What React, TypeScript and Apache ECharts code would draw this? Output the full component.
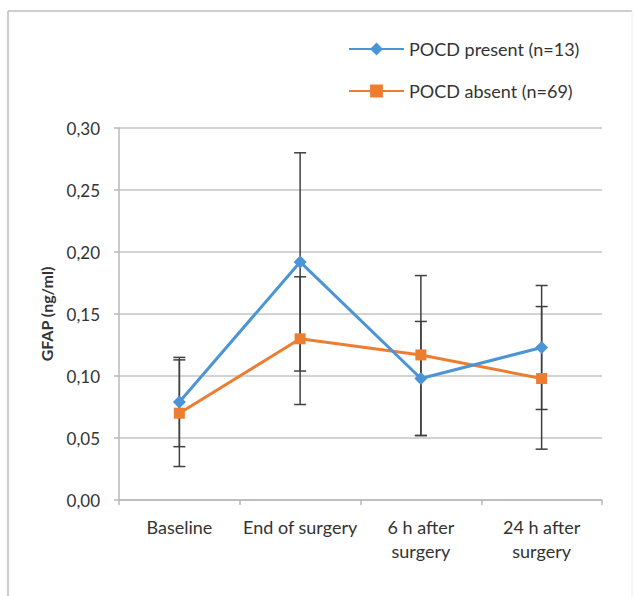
import React, { useEffect, useRef } from "react";
import * as echarts from "echarts";

const categories = ["Baseline", "End of surgery", "6 h after\nsurgery", "24 h after\nsurgery"];
const yTicks = [0, 0.05, 0.1, 0.15, 0.2, 0.25, 0.3];

const presentName = "POCD present (n=13)";
const presentMean = [0.079, 0.192, 0.098, 0.123];
const presentLow = [0.043, 0.104, 0.052, 0.073];
const presentHigh = [0.115, 0.28, 0.144, 0.173];

const absentName = "POCD absent (n=69)";
const absentMean = [0.07, 0.13, 0.117, 0.098];
const absentLow = [0.027, 0.077, 0.052, 0.041];
const absentHigh = [0.113, 0.18, 0.181, 0.156];

const FONT = "Lato, 'Open Sans', sans-serif";
const BLUE = "#4b94d6";
const ORANGE = "#ed7d31";
const ERR = "#3f3f3f";
const TXT = "#333333";

function errData(low: number[], high: number[]) {
  return low.map((l, i) => [i, l, high[i]]);
}

function errRender(params: any, api: any) {
  const hi = api.coord([api.value(0), api.value(2)]);
  const lo = api.coord([api.value(0), api.value(1)]);
  const w = 6;
  const style = { stroke: ERR, lineWidth: 1.5 };
  return {
    type: "group",
    children: [
      { type: "line", shape: { x1: hi[0], y1: hi[1], x2: lo[0], y2: lo[1] }, style },
      { type: "line", shape: { x1: hi[0] - w, y1: hi[1], x2: hi[0] + w, y2: hi[1] }, style },
      { type: "line", shape: { x1: lo[0] - w, y1: lo[1], x2: lo[0] + w, y2: lo[1] }, style },
    ],
  };
}

export default function App() {
  const ref = useRef<HTMLDivElement>(null);
  useEffect(() => {
    if (!ref.current) return;
    const chart = echarts.init(ref.current, undefined, { renderer: "svg" });
    chart.setOption({
      animation: false,
      backgroundColor: "#ffffff",
      textStyle: { fontFamily: FONT },
      graphic: [
        { type: "line", shape: { x1: 8, y1: 11, x2: 8, y2: 596 }, style: { stroke: "#bcbcbc", lineWidth: 1.5 } },
        { type: "line", shape: { x1: 8, y1: 11, x2: 632, y2: 11 }, style: { stroke: "#bcbcbc", lineWidth: 1.5 } },
        { type: "line", shape: { x1: 632, y1: 11, x2: 632, y2: 596 }, style: { stroke: "#ececec", lineWidth: 1 } },
      ],
      legend: {
        orient: "vertical",
        left: 343,
        top: 35,
        itemWidth: 55,
        itemHeight: 16,
        itemGap: 24,
        textStyle: { fontFamily: FONT, fontSize: 18, color: TXT },
        data: [presentName, absentName],
      },
      grid: { left: 119, right: 33, top: 128, bottom: 96, containLabel: false },
      xAxis: {
        type: "category",
        data: categories,
        boundaryGap: true,
        axisLine: { show: true, lineStyle: { color: "#b8b8b8", width: 1.5 } },
        axisTick: { show: true, length: 5, interval: 0, lineStyle: { color: "#b8b8b8", width: 1.5 } },
        axisLabel: {
          interval: 0,
          margin: 15,
          fontFamily: FONT,
          fontSize: 18,
          color: TXT,
          lineHeight: 24,
        },
      },
      yAxis: {
        type: "value",
        min: 0,
        max: 0.3,
        interval: 0.05,
        name: "GFAP (ng/ml)",
        nameLocation: "middle",
        nameRotate: 90,
        nameGap: 65,
        nameTextStyle: { fontFamily: FONT, fontSize: 16, fontWeight: "bold", color: TXT },
        axisLine: { show: true, lineStyle: { color: "#b8b8b8", width: 1.5 } },
        axisTick: { show: true, length: 5, lineStyle: { color: "#b8b8b8", width: 1.5 } },
        splitLine: { show: true, lineStyle: { color: "#c4c4c4", width: 1.5 } },
        axisLabel: {
          margin: 19,
          fontFamily: FONT,
          fontSize: 17,
          color: TXT,
          formatter: (v: number) => {
            const t = yTicks.find((x) => Math.abs(x - v) < 1e-9);
            return (t !== undefined ? t : v).toFixed(2).replace(".", ",");
          },
        },
      },
      series: [
        {
          type: "custom",
          name: "errPresent",
          renderItem: errRender,
          data: errData(presentLow, presentHigh),
          encode: { x: 0, y: [1, 2] },
          z: 1,
          silent: true,
        },
        {
          type: "custom",
          name: "errAbsent",
          renderItem: errRender,
          data: errData(absentLow, absentHigh),
          encode: { x: 0, y: [1, 2] },
          z: 1,
          silent: true,
        },
        {
          type: "line",
          name: absentName,
          data: absentMean,
          symbol: "rect",
          symbolSize: 11,
          lineStyle: { color: ORANGE, width: 3 },
          itemStyle: { color: ORANGE },
          z: 3,
        },
        {
          type: "line",
          name: presentName,
          data: presentMean,
          symbol: "diamond",
          symbolSize: 13,
          lineStyle: { color: BLUE, width: 3 },
          itemStyle: { color: BLUE },
          z: 4,
        },
      ],
    });
    return () => chart.dispose();
  }, []);
  return (
    <div
      ref={ref}
      style={{ position: "fixed", left: 0, top: 0, width: 635, height: 596 }}
    />
  );
}
